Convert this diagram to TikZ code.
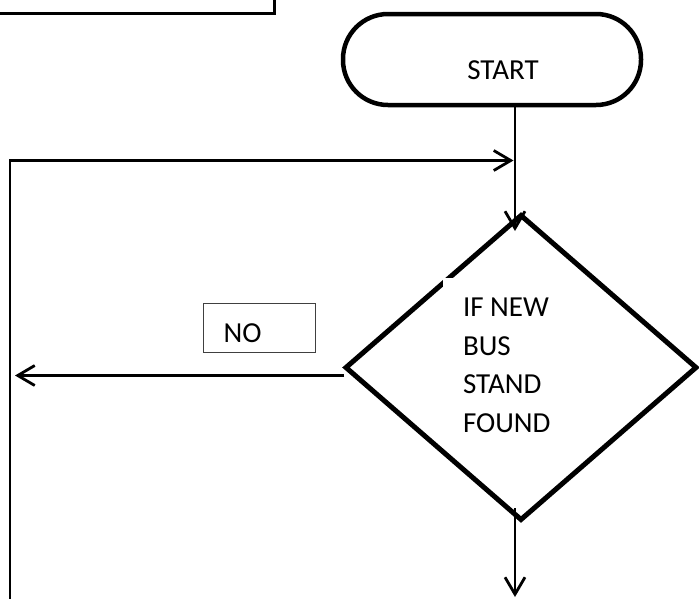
\documentclass[tikz,border=0pt]{standalone}
\usepackage{fontspec}
\setmainfont{Carlito}
\usetikzlibrary{shapes.geometric,arrows.meta}
\begin{document}
\begin{tikzpicture}[x=1pt,y=-1pt,
  every node/.style={font=\fontsize{29}{38.5}\selectfont, inner sep=0pt, outer sep=0pt},
  terminal/.style={draw, line width=4.5pt, rounded corners=45pt, minimum width=298pt, minimum height=91pt},
  decision/.style={draw, diamond, line width=5pt, minimum width=350pt, minimum height=304pt},
  labelbox/.style={draw=black!75, line width=1pt, minimum width=112pt, minimum height=49pt},
  conn/.style={line width=2.8pt},
  arr/.style={-{Straight Barb[length=17pt,width=20pt]}},
  framepart/.style={line width=3pt}]
\useasboundingbox (0,0) rectangle (699,598);

% part of the box above
\draw[framepart] (-2,13.3) -- (274,13.3) -- (274,-3);

% start terminal
\node[terminal] (start) at (492,59.5) {};
\node[anchor=base] (starttxt) at (503,79) {START};

% decision
\node[decision] (dec) at (521,367.5) {};
\fill[white] (443,278) rectangle (462,296);
\node[anchor=north west, align=left] (dectxt) at (463,298.3) {IF NEW\\BUS\\STAND\\FOUND};

% NO label
\node[labelbox] (nobox) at (259,327.5) {};
\node[anchor=base] (notxt) at (242.5,342) {NO};

% connector coordinates
\coordinate (decin) at (515,231);
\coordinate (join) at (513.5,160.5);
\coordinate (loopbot) at (10,600);
\coordinate (noout) at (344,375.5);
\coordinate (noend) at (15,375.5);
\coordinate (yesout) at (515,508);
\coordinate (yesend) at (515,597);

% connectors
\draw[conn,arr] (start.south -| decin) -- (decin);
\draw[conn,arr] (loopbot) -- (loopbot |- join) -- (join);
\draw[conn,arr] (noout) -- (noend);
\draw[conn,arr] (yesout) -- (yesend);
\end{tikzpicture}
\end{document}
